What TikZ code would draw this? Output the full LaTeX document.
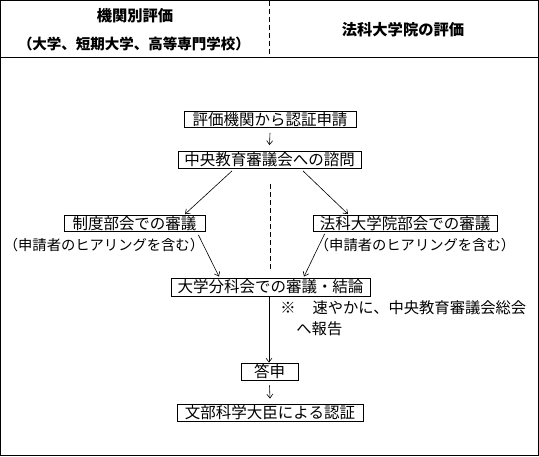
\documentclass[tikz,border=0pt]{standalone}
\usepackage{fontspec}
\setmainfont{Noto Sans CJK JP}
\usetikzlibrary{arrows.meta,calc}
\begin{document}
\begin{tikzpicture}[x=1pt,y=-1pt,
  line width=0.8pt,
  stepbox/.style={draw, inner sep=0pt, font=\fontsize{15.5}{15.5}\selectfont, minimum height=16pt},
  plain/.style={inner sep=0pt, font=\fontsize{14.3}{14.3}\selectfont},
  headtxt/.style={inner sep=0pt, font=\fontsize{15.3}{15.3}\selectfont\bfseries},
  arr/.style={-{Straight Barb[length=4pt,width=6pt]}, line width=0.6pt},
  dashline/.style={dash pattern=on 5pt off 3pt, line width=0.8pt}
]
\useasboundingbox (0,0) rectangle (539,456);
% frame
\draw (0.5,0.5) rectangle (538.5,455.5);
\draw (0.5,57) -- (538.5,57);
\coordinate (htop) at (269.5,0.5);
\coordinate (hbot) at (269.5,57);
\draw[dashline] (htop) -- (hbot);
% header texts
\node[headtxt] (h1) at (135,16) {機関別評価};
\node[headtxt, font=\fontsize{14.5}{14.5}\selectfont\bfseries] (h2) at (134,44) {（大学、短期大学、高等専門学校）};
\node[headtxt] (h3) at (403,30) {法科大学院の評価};
% body dashed separator
\coordinate (dtop) at (270,184);
\coordinate (dbot) at (270,270);
\draw[dashline] (dtop) -- (dbot);
% boxes
\node[stepbox, minimum width=172pt] (b1) at (270,119.5) {評価機関から認証申請};
\node[stepbox, minimum width=183pt, minimum height=17pt] (b2) at (269.5,160) {中央教育審議会への諮問};
\node[stepbox, minimum width=141pt] (b3l) at (134.5,223.5) {制度部会での審議};
\node[stepbox, minimum width=184pt] (b3r) at (405,223.5) {法科大学院部会での審議};
\node[stepbox, minimum width=199pt, minimum height=18pt] (b4) at (270.5,287) {大学分科会での審議・結論};
\node[stepbox, minimum width=57pt, minimum height=17pt] (b5) at (269.5,371.5) {答申};
\node[stepbox, minimum width=186pt, minimum height=17pt] (b6) at (270,412.5) {文部科学大臣による認証};
% sub labels
\node[plain] (s1) at (104,245) {（申請者のヒアリングを含む）};
\node[plain] (s2) at (415,245) {（申請者のヒアリングを含む）};
% note
\node[plain, anchor=west, font=\fontsize{15.3}{15.3}\selectfont] (n1) at (280,308) {※\hspace{1.1em}速やかに、中央教育審議会総会};
\node[plain, anchor=west, font=\fontsize{15.3}{15.3}\selectfont] (n2) at (296,329) {へ報告};
% connectors
\draw[arr] ([yshift=-5pt]b1.south) -- ([yshift=6pt]b2.north);
\draw[arr] ([xshift=-37.5pt,yshift=-2pt]b2.south) -- ([xshift=50.5pt,yshift=1pt]b3l.north);
\draw[arr] ([xshift=33.5pt,yshift=-2pt]b2.south) -- ([xshift=-57pt,yshift=1pt]b3r.north);
\draw[arr] ([xshift=-7pt,yshift=-3pt]b3l.south east) -- ([xshift=-51.5pt,yshift=1pt]b4.north);
\draw[arr] ([xshift=12pt,yshift=-2pt]b3r.south west) -- ([xshift=33.5pt,yshift=1pt]b4.north);
\draw[arr] ([xshift=-1.5pt]b4.south) -- ([xshift=-0.5pt]b5.north);
\draw[arr] ([yshift=-5pt]b5.south) -- ([yshift=5pt]b6.north);
\end{tikzpicture}
\end{document}
